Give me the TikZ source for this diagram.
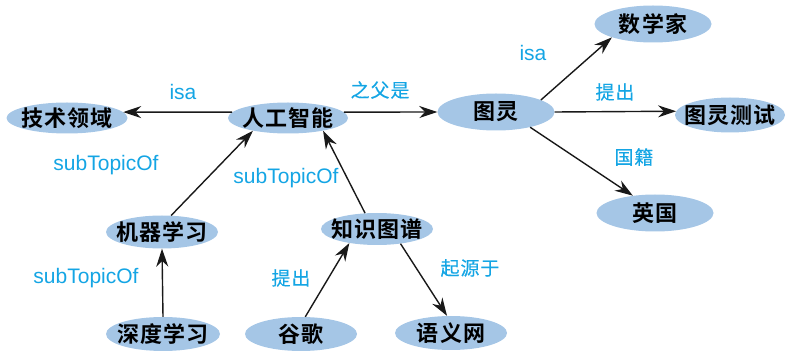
\documentclass[tikz,border=0pt]{standalone}
\usepackage{fontspec}
\setmainfont{Liberation Sans}
\newfontfamily\cjknode[LetterSpace=5]{Noto Sans CJK SC Bold}
\newfontfamily\cjklabel[LetterSpace=5,FakeBold=0.4]{Noto Sans CJK SC}
\usetikzlibrary{shapes.geometric, arrows.meta}
\definecolor{nodefill}{RGB}{165,198,230}
\definecolor{relblue}{RGB}{20,165,228}
\newcommand{\concept}[1]{\makebox[0pt]{\cjknode #1}}

\tikzset{
	concept/.style={ellipse, fill=nodefill, inner sep=0pt, minimum width=114pt, minimum height=34pt,
		font=\fontsize{22}{22}\selectfont},
	rel/.style={text=relblue, inner sep=0pt, font=\fontsize{21}{21}\selectfont},
	relcjk/.style={text=relblue, inner sep=0pt, font=\fontsize{19}{19}\selectfont\cjklabel},
	link/.style={-{Stealth[length=18pt,width=12pt]}, line width=1.4pt, black!90}
}

\begin{document}
\begin{tikzpicture}[x=1pt, y=1pt]
				\useasboundingbox (0,0) rectangle (788,351);

				\node[concept, minimum width=121pt, minimum height=31pt] (tech) at (67,233) {\concept{技术领域}};
				\node[concept, minimum width=120pt, minimum height=31pt] (ai) at (288,233) {\concept{人工智能}};
				\node[concept, minimum width=117pt, minimum height=37pt] (turing) at (496,239) {\concept{图灵}};
				\node[concept, minimum width=117pt, minimum height=37pt] (math) at (653,327) {\concept{数学家}};
				\node[concept, minimum width=110pt, minimum height=35pt] (test) at (730,236) {\concept{图灵测试}};
				\node[concept, minimum width=117pt, minimum height=37pt] (uk) at (655,138) {\concept{英国}};
				\node[concept, minimum width=112pt, minimum height=33pt] (ml) at (162,119) {\concept{机器学习}};
				\node[concept, minimum width=112pt, minimum height=32pt] (kg) at (377,122) {\concept{知识图谱}};
				\node[concept] (dl) at (163,17) {\concept{深度学习}};
				\node[concept, minimum width=112pt] (google) at (301,17) {\concept{谷歌}};
				\node[concept, minimum width=112pt] (web) at (451,18) {\concept{语义网}};

				\draw[link] (ai.174) -- (tech.6);
				\draw[link] (ai.6) -- (turing.west);
				\draw[link] (turing.15) -- (math.198);
				\draw[link] (turing.east) -- (test.176);
				\draw[link] (turing.336) -- (uk.142);
				\draw[link] (ml.61) -- (ai.200);
				\draw[link] (kg.127) -- (ai.340);
				\draw[link] (dl.north) -- (ml.south);
				\draw[link] (google.76) -- (kg.207);
				\draw[link] (kg.328) -- (web.103);

				\node[rel] (isa-tech) at (183,259) {isa};
				\node[relcjk] (father) at (380,261) {之父是};
				\node[rel] (isa-math) at (533,298) {isa};
				\node[relcjk] (propose-test) at (615,259) {提出};
				\node[relcjk] (nation) at (634,194) {国籍};
				\node[rel] (sub-ml) at (106,186) {subTopicOf};
				\node[rel] (sub-kg) at (286,173) {subTopicOf};
				\node[rel] (sub-dl) at (86,73) {subTopicOf};
				\node[relcjk] (propose-kg) at (291,73) {提出};
				\node[relcjk] (origin) at (470,83) {起源于};
			\end{tikzpicture}
\end{document}
